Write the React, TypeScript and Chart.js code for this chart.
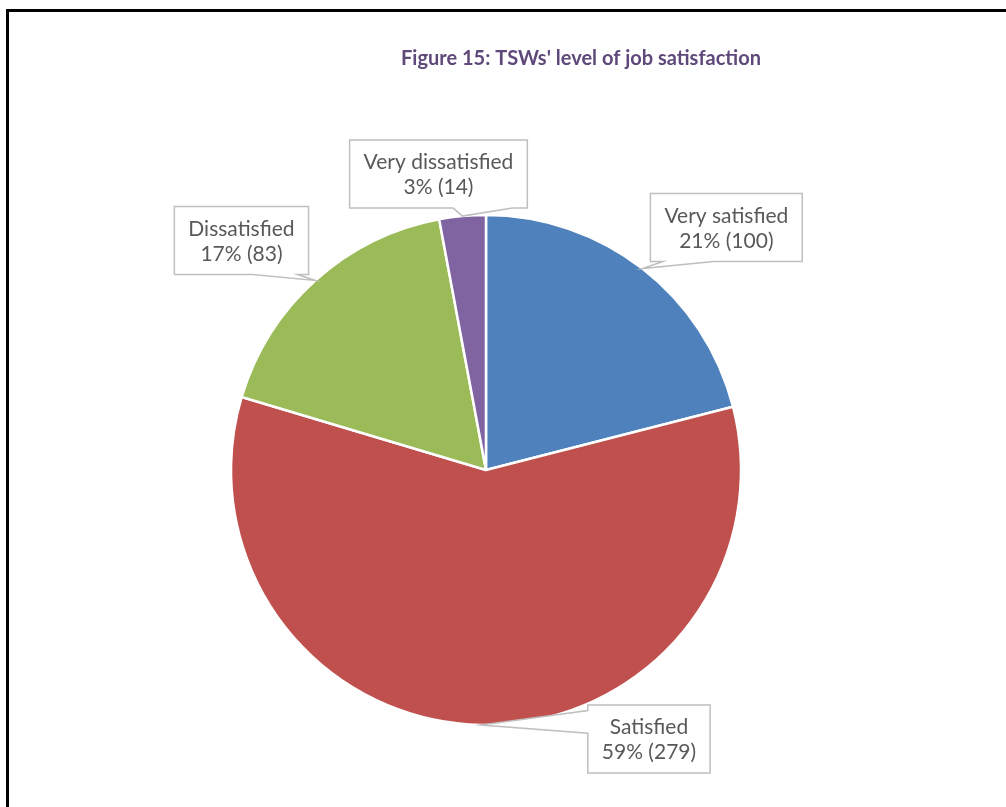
import React, { useEffect, useRef } from "react";
import { Chart, registerables } from "chart.js";

Chart.register(...registerables);

const titleText = "Figure 15: TSWs' level of job satisfaction";
const categories = ["Very satisfied", "Satisfied", "Dissatisfied", "Very dissatisfied"];
const counts = [100, 279, 83, 14];
const percentLabels = ["21%", "59%", "17%", "3%"];
const sliceColors = ["#4F81BD", "#C0504D", "#9BBB59", "#8064A2"];

const FONT = "Lato, 'Liberation Sans', sans-serif";

const calloutPlugin = {
  id: "calloutLabels",
  afterDatasetsDraw(chart: any, _args: any, opts: any) {
    const ctx = chart.ctx;
    const meta = chart.getDatasetMeta(0);
    const offsets: number[][] = opts.offsets;
    const sides: string[] = opts.sides;
    ctx.save();
    ctx.font = `${opts.fontSize}px ${FONT}`;
    meta.data.forEach((arc: any, i: number) => {
      const p = arc.getProps(["x", "y", "startAngle", "endAngle", "outerRadius"], true);
      const mid = (p.startAngle + p.endAngle) / 2;
      const tx = p.x + Math.cos(mid) * p.outerRadius;
      const ty = p.y + Math.sin(mid) * p.outerRadius;
      const [dx, dy] = offsets[i];
      const cx = tx + dx;
      const cy = ty + dy;
      const lines = [categories[i], `${percentLabels[i]} (${counts[i]})`];
      const tw = Math.max(...lines.map((l) => ctx.measureText(l).width));
      const w = tw + 2 * opts.padX;
      const h = lines.length * opts.lineH + 2 * opts.padY;
      const l = cx - w / 2, t = cy - h / 2, r = cx + w / 2, b = cy + h / 2;
      const side = sides[i];
      ctx.beginPath();
      ctx.moveTo(l, t);
      if (side === "top") {
        const a = tx < cx ? l + w / 12 : l + (7 * w) / 12;
        const c = tx < cx ? l + (5 * w) / 12 : l + (11 * w) / 12;
        ctx.lineTo(a, t); ctx.lineTo(tx, ty); ctx.lineTo(c, t);
      }
      ctx.lineTo(r, t);
      if (side === "right") {
        const a = ty < cy ? t + h / 12 : t + (7 * h) / 12;
        const c = ty < cy ? t + (5 * h) / 12 : t + (11 * h) / 12;
        ctx.lineTo(r, a); ctx.lineTo(tx, ty); ctx.lineTo(r, c);
      }
      ctx.lineTo(r, b);
      if (side === "bottom") {
        const a = tx < cx ? l + w / 12 : l + (7 * w) / 12;
        const c = tx < cx ? l + (5 * w) / 12 : l + (11 * w) / 12;
        ctx.lineTo(c, b); ctx.lineTo(tx, ty); ctx.lineTo(a, b);
      }
      ctx.lineTo(l, b);
      if (side === "left") {
        const a = ty < cy ? t + h / 12 : t + (7 * h) / 12;
        const c = ty < cy ? t + (5 * h) / 12 : t + (11 * h) / 12;
        ctx.lineTo(l, c); ctx.lineTo(tx, ty); ctx.lineTo(l, a);
      }
      ctx.closePath();
      ctx.fillStyle = "#FFFFFF";
      ctx.fill();
      ctx.lineWidth = 1.5;
      ctx.strokeStyle = "#BFBFBF";
      ctx.stroke();
      ctx.fillStyle = "#595959";
      ctx.textAlign = "center";
      ctx.textBaseline = "middle";
      lines.forEach((line, k) => {
        ctx.fillText(line, cx, t + opts.padY + opts.lineH * (k + 0.5) + 1);
      });
    });
    ctx.restore();
  },
};

const titlePlugin = {
  id: "figTitle",
  afterDraw(chart: any, _args: any, opts: any) {
    const ctx = chart.ctx;
    ctx.save();
    ctx.font = `bold ${opts.fontSize}px ${FONT}`;
    ctx.fillStyle = opts.color;
    ctx.textAlign = "center";
    ctx.textBaseline = "alphabetic";
    ctx.fillText(opts.text, opts.x, opts.y);
    ctx.restore();
  },
};

export default function App() {
  const canvasRef = useRef<HTMLCanvasElement>(null);

  useEffect(() => {
    const chart = new Chart(canvasRef.current as HTMLCanvasElement, {
      type: "pie",
      data: {
        labels: categories,
        datasets: [
          {
            data: counts,
            backgroundColor: sliceColors,
            borderColor: "#FFFFFF",
            borderWidth: 2.5,
          },
        ],
      },
      options: {
        responsive: false,
        animation: false,
        radius: 255,
        layout: { padding: { left: 231, right: 265, top: 215, bottom: 82 } },
        plugins: {
          legend: { display: false },
          title: { display: false },
          tooltip: { enabled: false },
          calloutLabels: {
            offsets: [[84, -41], [168, 14], [-74, -40], [-24, -42]],
            sides: ["bottom", "left", "bottom", "bottom"],
            fontSize: 21,
            lineH: 25,
            padX: 14,
            padY: 9,
          },
          figTitle: { text: titleText, x: 581, y: 65, fontSize: 20, color: "#5F497A" },
        },
      } as any,
      plugins: [calloutPlugin, titlePlugin],
    });
    return () => chart.destroy();
  }, []);

  return (
    <div style={{ position: "fixed", left: 0, top: 0, width: 1006, height: 807, background: "#FFFFFF", overflow: "hidden" }}>
      <canvas ref={canvasRef} width={1006} height={807} style={{ position: "absolute", left: 0, top: 0 }} />
      <div
        style={{
          position: "absolute",
          left: 6,
          top: 9,
          width: 1100,
          height: 900,
          borderLeft: "3px solid #000",
          borderTop: "3px solid #000",
          pointerEvents: "none",
        }}
      />
    </div>
  );
}
